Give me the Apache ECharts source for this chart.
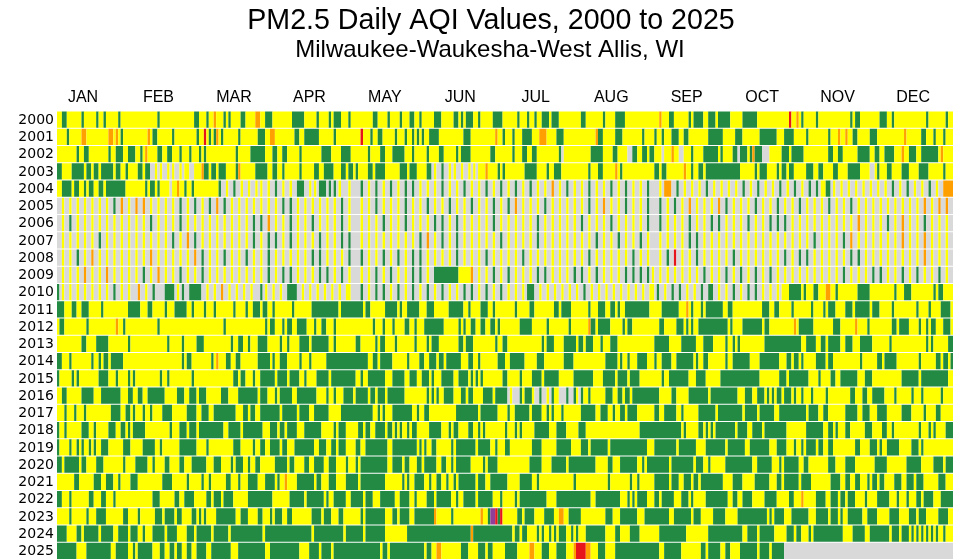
<!DOCTYPE html>
<html>
<head>
<meta charset="utf-8">
<title>PM2.5 Daily AQI Values, 2000 to 2025</title>
<script src="https://cdn.jsdelivr.net/npm/echarts@6/dist/echarts.min.js"></script>
<style>
html,body{margin:0;padding:0;background:#fff;}
#chart{width:956px;height:560px;}
</style>
</head>
<body>
<div id="chart"></div>
<script>
var years = ['2000','2001','2002','2003','2004','2005','2006','2007','2008','2009','2010','2011','2012',
	'2013','2014','2015','2016','2017','2018','2019','2020','2021','2022','2023','2024','2025'];
var months = ['JAN','FEB','MAR','APR','MAY','JUN','JUL','AUG','SEP','OCT','NOV','DEC'];
var levels = ['Good','Moderate','Unhealthy for Sensitive Groups','Unhealthy','Very Unhealthy','No Data'];
var levelCodes = 'GYORPN';

// daily category runs, three blocks of 122 days per year
// upper case + count = run of days, lower case = 1-in-3 day sample (two missing days, then the sample)
var d2000 = ['Y2G2Y6G1Y5G1Y2G1Y5G1Y15G1Y14G2Y3G1Y2O1Y3G1Y1G1Y4G2Y4O2Y2G3Y8G5Y5G1Y4G1Y1G3Y3G1Y2',
	'Y7G2Y4G1Y4G1Y3G2Y2G1Y5G3Y5G2Y1G1Y1G3Y2G1Y5G4Y6G1Y3G1Y2G1Y2G3Y1G3Y9G2Y7G1Y4G4Y12',
	'Y2O1Y3G2Y6G1Y1G4Y2G3Y1G5Y5G6Y13R1Y2O1Y1G1Y5G1Y13G1Y1G2Y8G3Y2G1Y13G1Y7G1Y2'];
var d2001 = ['Y4G1Y5O2Y9O2Y1O1Y1G1Y10O1Y1G2Y6G1Y9G1Y2R1Y1G1Y1G1O1Y1G1Y6G1Y7G3Y2O2Y8G2Y2G6Y6G1Y8',
	'Y2R1Y3G1Y2G2Y5G1Y3G1Y2G1Y1G1Y1G1Y2G4Y10G3Y10O1Y2G1Y3G1Y3G4Y3O3Y4G3Y13O1G2Y5G3Y8G1Y4',
	'G1Y2G1Y3G3Y2G2Y8G6Y5G3Y7G7Y3G4Y5G1Y8G1Y3O1Y2O1Y2G2Y5G3Y11O1Y6G2Y3G1Y3G1Y3'];
var d2002 = ['Y8G1Y2G2Y8G1Y2G3Y2G3Y2G1Y1O1Y4G2Y2G2Y3G1Y3G1Y3G1Y1G1Y12G1Y5G6Y3G2Y2G2Y5G1Y8G4Y4G4Y2',
	'Y5G1Y4G2Y3G5Y3G1Y5G1Y4G2Y5G1Y1G4Y8G2Y7G1Y3G2Y2G2Y9G1N1Y11G5Y4G2Y4N2G2Y2G2Y1G3',
	'Y3N1Y3O1Y2N2Y3G1Y4G6Y1G1Y4G2N1G3Y1G1O1G3N3Y5G3Y1G5Y10G2Y2G2Y6G5Y2G2Y2G4Y3O1Y2G3Y2G7Y1O1Y3'];
var d2003 = ['G2Y4G5Y1G2Y1G2Y1G5Y1G2Y2G1Y4G2Y1G2N2Y1N1Y1N2Y1N1Y1N2Y1N1Y2N2Y3O1G2Y1G2Y1G3Y4G1O1Y6G5Y2G2Y2G1Y6G1Y5G2Y2G4Y3G2Y1G2Y1',
	'G1Y4G2Y1G4Y6G3Y1G3Y4G2N1Y1N2G1N2Y1N1Y1N2Y1N2Y1N1Y1N1Y3O1Y4G1Y1G1Y8G5Y4G1Y2G3Y11G1Y3G2Y5O1Y1G1Y14',
	'G2Y1G2Y7O1Y2G1Y2G2Y1G14Y6G1Y1G3Y4G1Y1G2Y1G2Y5G3Y2G2Y4G2Y4G5Y4N2Y1G1Y3G2Y4G3Y4G4Y6G1Y3'];
var d2004 = ['Y2G4Y1G2Y2G1Y1G2Y2G2Y1G8Y8G1Y1G2Y1G1Y4N1Y2O1Y2G1Y2G1Y10G1 ygyyyN1YygyyN2G3yN1YN1G3N1GN1GN1YN1yN2',
	'gygygyggyyygyygyygygygygyyoygyygyygygyygy',
	'yN1O3gyyygyyyygygyygygyggN1Y2G2N1Yyyyyyyygygyygyo'];
var d2005 = ['yyyyyyygoyooyyyygygygogyyyyyyyggyyyyyygyy',
	'yygyyygyygyygyygyygygoyyygyyyyygyoyygyygy',
	'gygyoyyyogyyygyygyygyyygyygyyyyyyyyyoyooy'];
var d2006 = ['ygyyyyyyyyyygyyygyyyyyyyyyggoyygyygyyygyy',
	'yyygyygyyyggygyyyygyyyyygyyyyygyyygyyyygy',
	'gyyygyyggyyygyygggyyyyyyyyyoyyygyoyygyyyy'];
var d2007 = ['yyyyygyyyyyyyyygyogyyyyyyygyggygyyygyyggy',
	'yyyyyyyygoygygyyyyygyyyygyyyyyyygyygyygyy',
	'yyyyggyyyyyyyyyyyyyyygyyygoyyyyyyoyyoyyyy'];
var d2008 = ['yygyoyyyyyyyoyyyyyogyygyygyygyyyyyggyyygy',
	'gyygygyggyyyygyyygyyyygyyyyyyyygyyyyygyyy',
	'ygryygyyyygyyyyyygyggyyyyyggyyyyyyyyoyyyy'];
var d2009 = ['yyyoyyoyyyygyoyygyygyyyyyyyygyggyyyggygyy',
	'yygygyyggyN2G10Y5O1yygygyyyggyyyggygyyyggggN1Y',
	'yyyyyygyygygygygyyyyyyyyygyyyggyygygyygyg'];
var d2010 = ['GN1YyyyyyygyyN3OygN4G4N1YN1GN2G5yyoyyyyN3GN1YyyN2G4yyyyyyN2Y2N2',
	'gyggygygygygyyggygygyyyN1G3yyyyyygyyyyyyyyy',
	'N1GyggyygN2G2yygyggyyyN1Y3G5YGY3G2Y3O2Y2GY8G5Y10GY3G3Y9GYG2Y4'];
var d2011 = ['G3Y3G2Y2G3Y5G1Y10G5Y3G2Y5G1Y3G5Y2G1Y4G1Y3G1Y7G1Y4G1Y2G3Y1G2Y2G1Y7G1Y7G11Y1G6',
	'G3Y1G2Y6G5Y1G1Y2G5Y3G3Y6G6Y2G1Y4G3Y2G1Y8G1Y5G2Y8G2Y1G4Y7G1Y3G3Y2G2Y1G1Y2G10Y2',
	'Y3G7Y3O1Y1G1Y3G1Y1G7Y2G2Y12G3Y2G2Y5G1Y7G1Y4G1Y1G3Y4G3Y1G6Y1G3Y5G1Y9G1Y4G1Y4G4Y2'];
var d2012 = ['Y1G2Y9G1Y11O1Y2G1Y13G1Y26G1Y16G1Y1G2Y3G1Y1G2Y2G4Y3G1Y2G2Y3G1Y8',
	'Y7G1Y3G1Y3G1Y4G2Y2G1Y3G8Y6G1Y1G1Y2G2Y2G2Y2G2Y1G1Y8G5Y6G1Y8G1Y7O1G2Y1G5Y5G1Y1G2Y9',
	'Y2G2Y5G3Y1G1Y1G1Y2G12Y1G1Y4G8Y1G2Y10O1Y1G6Y8G3Y6O1Y4G1Y9G2Y1G4Y4G1Y2G1Y1G2Y3G3Y2'];
var d2013 = ['Y10G2Y4G5Y8G1Y15G1Y5G1Y5G3Y11G1Y2G2Y2G1Y3G4Y5G1Y2G1Y4G4Y1G7Y2G1Y8',
	'G2Y6G1Y1G2Y4G1Y7G1Y4G1Y1G3Y8G2Y1G3Y9G1Y2G2Y14G1Y1G3Y4G5Y1G2Y1G3Y3G1Y3G3Y15',
	'G6Y5G6Y3G4Y5G1Y2G1Y1G1Y10G15Y2G4Y2G2Y1G5Y2G3Y3G5Y7G1Y14G1Y1G1Y6G2'];
var d2014 = ['G2Y3G1Y8G1Y2G1Y1G2Y1G5Y24G1Y1G2Y8G1Y1O1Y3G2Y2G2Y7G5Y1G1Y2G3Y5G1Y3G1Y6G12',
	'G5Y2G2Y1G5Y6G1Y4G2Y2G3Y1G2Y1G6Y3G2Y2G1Y7G3Y2G6Y5G3Y8G4Y13G5Y1G1Y2G1Y3G4Y3',
	'G1Y2G4Y2G7Y1G1Y2G2Y7G1Y2G7Y4G8Y3G2Y1G2Y1G1Y5G4Y1G2Y11G1Y6G2Y1G5Y9G1Y6G2Y1G2Y1G1'];
var d2015 = ['G1Y5G1Y1G1Y8G4Y3G1Y4G1Y1G1Y10G1Y2G1Y9G1Y16G2Y1G2Y3G1Y2G6Y1G4Y1G4Y2G1Y4G5Y1G10',
	'Y2G1Y2G7Y3G5Y2G3Y2G3Y1G1Y3G5Y2G4Y1G1Y1G1Y1G1Y8G2Y5G1Y4G4Y1G6Y6G8Y4G5Y1G4Y1G4Y6',
	'Y3G1Y2G8Y3G4Y6G16Y8G3Y1G8Y4G1Y4G2Y2G7Y3G3Y12G7Y1G11Y2'];
var d2016 = ['Y2G2Y6G5Y3G8Y3G2Y2G2Y2G7Y5G3Y2G3Y1G3Y6G3Y4G8Y1G3Y3G1Y1G5Y2G8Y4G1Y2G1Y3G4Y1',
	'G5Y1G2Y1G3Y1G7Y9G1Y1G1Y1G1Y2G4Y3G2Y1G2Y4G4Y1G5N1Y1N3G1Y1G3Y1N2G1N2Y1N1G1Y2N3G1N2G1Y1N1G1Y2G1Y6G3Y2G2Y1G2Y1G9',
	'G2Y5G2Y5G8Y1G11Y3G3Y2G3Y1G1Y1G1Y1G2Y1G3Y1G1Y2G1Y3G1Y5G1Y9G2Y3G2Y2G5Y4G1Y6G1Y3G1Y7G1Y3'];
var d2017 = ['Y3G1Y3G1Y3G1Y10G4Y2G2Y1G1Y3G1Y2G1Y4G4Y6G4Y2G3Y2G9Y3G2Y1G2Y2G8Y1G6Y1G4Y2G6Y5G6',
	'G7Y2G1Y1G1Y3G8Y2G1Y2G2Y11G9Y1G7Y4G1Y2G6Y1G4Y2G1Y1G1Y3G1Y7G6Y2G3Y2G1Y2G2Y1G4Y7',
	'G2Y2G5Y2G1Y6G7Y1G10Y1G5Y1G6Y2G11Y1G4Y2G2Y7G5Y2G3Y3G4Y6G4Y5G1Y4G2Y5'];
var d2018 = ['G1Y2G1Y6G3Y2G1Y5G3Y2G2Y1G1Y1G5Y10G1Y3G3Y1G3Y1G10Y2G5Y1G8Y3G3Y1G2Y1G4Y3G7Y5G1Y1G3Y4',
	'Y1G2Y1G2Y2G4Y1G2Y1G1Y1G1Y2G1Y1G2Y5G5Y3G1Y1G2Y4G2Y2G1Y1G1Y8G1Y3G1Y1G1Y5G6Y3G4Y5G3Y22G3',
	'G11Y1G1Y5G2Y1G1Y1G1Y1G8Y1G4Y2G4Y1G9Y8G7Y2G2Y1G1Y3G2Y6G3Y4G2Y2G1Y10G1Y3G1Y1G1Y4G3'];
var d2019 = ['G1Y4G1Y2G1Y1G1Y2G1Y1G1Y2G3Y6G3Y5G5Y2G1Y7G7Y4G1Y10G3Y5G1Y2G2Y2G4Y1G2Y3G8Y2G3Y2G2Y1G3Y4',
	'G2Y2G9Y2G10Y1G1Y1G1Y2G2Y6G1Y1G8Y1G5Y2G1Y3G2Y9G4Y6G6Y4G3Y1G7Y1G15Y3',
	'G9Y1G7Y4G8Y1G7Y2G8Y3G4Y3G1Y2G1Y1G4Y1G2Y2G2Y9G2Y4G3Y1G1Y2G5Y5G3Y1G1Y12'];
var d2020 = ['G2Y1G6Y1G2Y4G3Y8G1Y4G5Y2G1Y4G2Y4G2Y3G6Y3G3Y4G1Y1G3Y2G1Y2G2Y6G5Y1G2Y4G2Y2G4Y2G3Y4G1Y4',
	'G1Y1G11Y2G4Y1G2Y3G2Y1G5Y2G2Y2G1Y1G6Y5G1Y1G4Y13G5Y4G6Y1G11Y5G2Y3G7Y2G1Y1G3',
	'G6Y1G9Y1G3Y2G1Y6G11Y2G6Y3G1Y1G6Y2G2Y8G3Y4G4Y8G5Y8G6Y5G4Y1G3'];
var d2021 = ['Y7G2Y6G3Y2G3Y2G1Y4G3Y10G4Y6G1Y5G1Y2G1Y6G2Y3G1Y3G4Y3G4Y1G1Y2O1Y4G7Y1G2Y3G3Y4G4',
	'G1Y1G10Y7G1Y1G1Y2G4Y2G1Y2G2Y2G1Y2G1Y1G7Y1G3Y2G7Y5G5Y2G1Y14G1Y13G1Y8G1Y2G1Y6',
	'G6Y1G3Y2G3Y1G2Y1G9Y4G4Y5G6Y3G2Y1G6Y1G4Y8G4Y2G2Y2G2Y3G1Y1G2Y1G2Y4G3Y2G3Y1G3Y6G3Y3'];
var d2022 = ['G2Y3G1Y7G2Y3G2Y3G1Y15G3Y6G2Y2G4Y5G2Y1G3Y1G4Y6G10Y7G6Y1G7Y1G1Y2G5Y2G2',
	'G3Y1G3Y3G6Y2G4Y2G1Y4G3Y1G6Y2G1Y2G5Y1G6Y3G1Y5G1Y1G11Y4G14Y2G10Y3G1Y1G1Y1G4Y4',
	'G2Y1G5Y3G3Y1G1Y5G9Y2G2Y2G4Y5G5Y5G2Y3O1Y5G4Y2G3Y1G2Y1G3Y4G1Y4G5Y3G1Y3G1Y3G2Y1G4Y3G5'];
var d2023 = ['Y5G1Y6G1Y3G4Y7G2Y4G1Y6G3Y1G4Y1G2Y4G2Y1G1Y1G1Y4G8Y2G3Y4G2Y3G1Y1G3Y2G2Y8G4Y1G3Y3G2Y5',
	'Y2G1Y1G8Y3G2Y1G4Y2G8O1Y6G1Y11O1Y2G1P2R1G1R1Y6G2Y1G4Y4G4Y2O2Y2G5Y10G3Y3G7Y3G4',
	'G6Y2G7Y1G3Y5G5Y5G12Y1G1Y1G4Y3G7Y3G5Y1G3Y1G1Y2G6Y2G4Y5G4Y4G3Y1G3Y5G4Y2'];
var d2024 = ['G4Y4G2Y1G6Y1G5Y2G4Y1G3Y2G1Y3G5Y1G4Y4G3Y1G6Y1G6Y1G13Y1G19Y1G12Y1G4',
	'G3Y1G8Y9G26O1G16Y1G2Y1G2Y4G1Y1G1Y2G1Y1G1Y1G3Y2G1Y1G1Y3G8Y4G2Y4G4Y3',
	'Y2G11Y9G14Y2G4Y1G6Y5G3Y1G2Y3G1Y1G12Y4G5Y2G8Y1G3Y1G3Y1G1Y1G1Y1G1Y1G1Y1G1Y1G1Y2G1Y4'];
var d2025 = ['G8Y4G10Y2G5Y2G1Y1G6Y3G2Y2G2Y1G2Y2G2Y2G4Y2G8Y3G11Y2G12Y4G4Y1G4Y1G9',
	'G10Y1G2Y1G14Y1G2Y2O2Y8G3Y4G3Y1G2Y5G5Y5O2Y3G3Y3G4Y3O1R4O2Y3G3Y4G16',
	'G2Y2G7Y8G2Y1G5Y2G2Y4G7Y1G4Y1G5N69'];

var yearRows = [d2000,d2001,d2002,d2003,d2004,d2005,d2006,d2007,d2008,d2009,d2010,d2011,d2012,
	d2013,d2014,d2015,d2016,d2017,d2018,d2019,d2020,d2021,d2022,d2023,d2024,d2025];

var levelColors = ['#238a44','#ffff00','#ffa000','#e8141c','#8f3f97','#d9d9d9'];

function expandSegment(seg){
	var days = [];
	seg.replace(/([A-Za-z])(\d*)/g, function(m, c, n){
		if(c >= 'a' && c <= 'z'){
			days.push('N', 'N', c.toUpperCase());
		}else{
			var k = n ? parseInt(n, 10) : 1;
			for(var i = 0; i < k; i++) days.push(c);
		}
		return m;
	});
	while(days.length < 122) days.push(days[days.length-1]);
	return days.slice(0, 122);
}

// merge equal neighbouring days into [startDay, endDay, yearIndex, level]
var runData = [];
for(var r = 0; r < yearRows.length; r++){
	var days = [];
	for(var s = 0; s < yearRows[r].length; s++){
		days = days.concat(expandSegment(yearRows[r][s]));
	}
	var start = 0;
	for(var d = 1; d <= days.length; d++){
		if(d === days.length || days[d] !== days[start]){
			runData.push([start, d, r, levelCodes.indexOf(days[start])]);
			start = d;
		}
	}
}

function renderRun(params, api){
	var p0 = api.coord([api.value(0), api.value(2)]);
	var p1 = api.coord([api.value(1), api.value(2)]);
	var rowH = api.size([0, 1])[1];
	return {
		type: 'rect',
		shape: {x: p0[0], y: p0[1] - rowH/2, width: p1[0] - p0[0], height: rowH - 1},
		style: {fill: levelColors[api.value(3)]}
	};
}

var chart = echarts.init(document.getElementById('chart'));
var option = {
	animation: false,
	backgroundColor: '#fff',
	graphic: [
		{type: 'text', x: 491, y: 21, style: {text: 'PM2.5 Daily AQI Values, 2000 to 2025', fontFamily: 'Liberation Sans', fontSize: 28.6, fill: '#000', textAlign: 'center', textVerticalAlign: 'middle'}},
		{type: 'text', x: 490, y: 50, style: {text: 'Milwaukee-Waukesha-West Allis, WI', fontFamily: 'Liberation Sans', fontSize: 24, fill: '#000', textAlign: 'center', textVerticalAlign: 'middle'}}
	],
	grid: [
		{left: 57, width: 896, top: 111.5, height: 450},
		{left: 45.3, width: 905.5, top: 106, height: 1}
	],
	xAxis: [
		{type: 'value', min: 0, max: 366, show: false},
		{type: 'category', gridIndex: 1, position: 'top', data: months,
			axisLine: {show: false}, axisTick: {show: false},
			axisLabel: {margin: 0, fontFamily: 'Liberation Sans', fontSize: 16, color: '#000'}}
	],
	yAxis: [
		{type: 'category', data: years, inverse: true,
			axisLine: {show: false}, axisTick: {show: false}, splitLine: {show: false},
			axisLabel: {interval: 0, margin: 3, fontFamily: 'DejaVu Sans', fontSize: 14, color: '#000'}},
		{type: 'value', gridIndex: 1, show: false}
	],
	series: [
		{
			name: 'AQI',
			type: 'custom',
			renderItem: renderRun,
			progressive: 0,
			encode: {x: [0, 1], y: 2},
			data: runData
		}
	]
};
chart.setOption(option);
</script>
</body>
</html>
